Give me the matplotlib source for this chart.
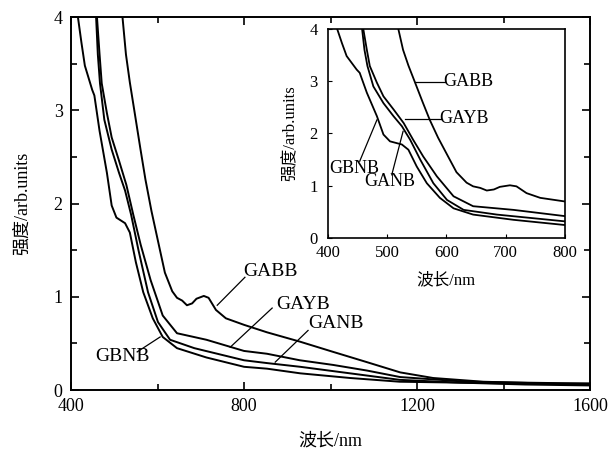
import matplotlib
matplotlib.use("Agg")
import matplotlib.pyplot as plt
from matplotlib.ticker import MultipleLocator

plt.rcParams['font.family'] = ['Liberation Serif', 'Noto Sans CJK SC']

# 光谱数据
gbnb_x = [416, 424, 432, 449, 454, 466, 483, 494, 505, 525, 536, 550, 567, 589, 612,
          645, 713, 800, 853, 930, 1045, 1160, 1300, 1450, 1600]
gbnb_y = [4.0, 3.73, 3.48, 3.22, 3.16, 2.78, 2.33, 1.98, 1.85, 1.79, 1.69, 1.37, 1.05,
          0.77, 0.57, 0.45, 0.35, 0.25, 0.23, 0.18, 0.13, 0.09, 0.08, 0.07, 0.06]

ganb_x = [458, 462, 467, 477, 494, 511, 525, 539, 556, 578, 601, 629, 685, 800, 853,
          930, 1045, 1160, 1300, 1450, 1600]
ganb_y = [4.0, 3.6, 3.29, 2.9, 2.58, 2.33, 2.14, 1.88, 1.5, 1.05, 0.73, 0.54, 0.45,
          0.32, 0.29, 0.25, 0.18, 0.11, 0.08, 0.06, 0.05]

gayb_x = [460, 466, 471, 483, 494, 511, 528, 544, 561, 584, 612, 645, 713, 800, 853,
          929, 1006, 1084, 1161, 1315, 1450, 1600]
gayb_y = [4.0, 3.6, 3.29, 2.97, 2.71, 2.46, 2.2, 1.88, 1.56, 1.18, 0.80, 0.61, 0.54,
          0.42, 0.39, 0.32, 0.27, 0.21, 0.14, 0.09, 0.08, 0.07]

gabb_x = [519, 527, 536, 547, 560, 572, 586, 601, 617, 634, 645, 657, 668, 680, 690,
          707, 718, 735, 758, 800, 853, 929, 1006, 1084, 1161, 1237, 1353, 1507, 1600]
gabb_y = [4.0, 3.6, 3.3, 2.98, 2.6, 2.26, 1.92, 1.6, 1.26, 1.06, 0.99, 0.96, 0.91,
          0.93, 0.98, 1.01, 0.99, 0.86, 0.77, 0.70, 0.62, 0.52, 0.41, 0.30, 0.19, 0.13,
          0.09, 0.07, 0.07]

series = [(gbnb_x, gbnb_y), (ganb_x, ganb_y), (gayb_x, gayb_y), (gabb_x, gabb_y)]

fig = plt.figure(figsize=(6.09, 4.51), dpi=100)

# 主图
ax = fig.add_axes([0.1166, 0.135, 0.8524, 0.827])
for xs, ys in series:
    ax.plot(xs, ys, color='black', lw=1.4)
ax.set_xlim(400, 1600)
ax.set_ylim(0, 4)
ax.xaxis.set_major_locator(MultipleLocator(400))
ax.xaxis.set_minor_locator(MultipleLocator(200))
ax.yaxis.set_major_locator(MultipleLocator(1))
ax.yaxis.set_minor_locator(MultipleLocator(0.5))
ax.tick_params(which='both', direction='in', top=True, right=True, labelsize=13, width=1.2)
ax.tick_params(which='major', length=6, pad=6)
ax.tick_params(which='minor', length=4)
for s in ax.spines.values():
    s.set_linewidth(1.4)
ax.set_xlabel('波长/nm', fontsize=13, labelpad=12)
ax.set_ylabel('强度/arb.units', fontsize=13, labelpad=16)

# 主图标注
main_labels = [('GABB', (860, 1.27), (802, 1.21), (738, 0.91)),
               ('GAYB', (936, 0.92), (865, 0.88), (768, 0.46)),
               ('GANB', (1013, 0.71), (948, 0.64), (872, 0.30)),
               ('GBNB', (520, 0.36), (553, 0.41), (606, 0.57))]
for txt, tpos, p0, p1 in main_labels:
    ax.text(tpos[0], tpos[1], txt, fontsize=14, ha='center', va='center')
    ax.plot([p0[0], p1[0]], [p0[1], p1[1]], color='black', lw=0.9)

# 插图
ins = fig.add_axes([0.538, 0.472, 0.39, 0.464])
for xs, ys in series:
    ins.plot(xs, ys, color='black', lw=1.3)
ins.set_xlim(400, 800)
ins.set_ylim(0, 4)
ins.xaxis.set_major_locator(MultipleLocator(100))
ins.yaxis.set_major_locator(MultipleLocator(1))
ins.tick_params(direction='in', length=3, labelsize=12)
ins.tick_params(axis='x', pad=5)
ins.tick_params(axis='y', pad=7)
for s in ins.spines.values():
    s.set_linewidth(1.2)
ins.set_xlabel('波长/nm', fontsize=12, labelpad=8)
ins.set_ylabel('强度/arb.units', fontsize=12, labelpad=8)

inset_labels = [('GABB', (637, 2.99), (598, 2.98), (547, 2.98)),
                ('GAYB', (630, 2.29), (592, 2.28), (530, 2.28)),
                ('GBNB', (444, 1.34), (454, 1.47), (483, 2.26)),
                ('GANB', (505, 1.08), (508, 1.21), (527, 2.04))]
for txt, tpos, p0, p1 in inset_labels:
    ins.text(tpos[0], tpos[1], txt, fontsize=13, ha='center', va='center')
    ins.plot([p0[0], p1[0]], [p0[1], p1[1]], color='black', lw=0.9)

fig.savefig('out.png', dpi=100)
